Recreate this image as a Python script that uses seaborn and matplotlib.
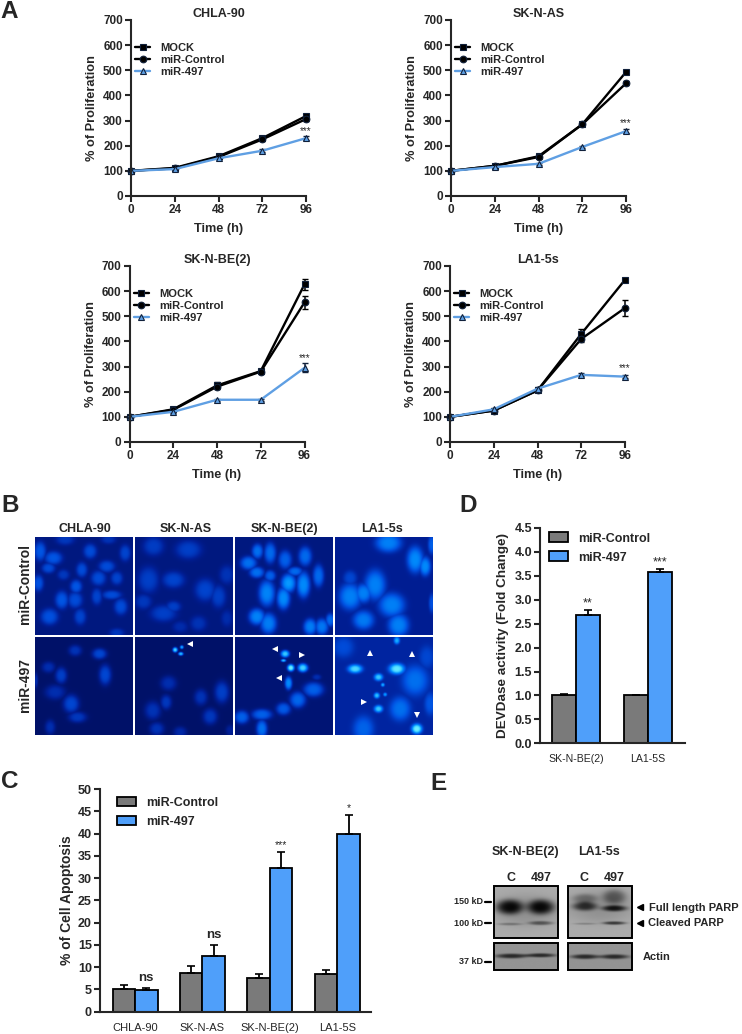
import numpy as np
import pandas as pd
import matplotlib
matplotlib.use("Agg")
import matplotlib.pyplot as plt
from matplotlib.colors import LinearSegmentedColormap
from matplotlib.patches import Rectangle
import seaborn as sns

sns.set_style("ticks")
plt.rcParams["font.family"] = ["Liberation Sans", "DejaVu Sans"]
plt.rcParams["font.weight"] = "bold"
plt.rcParams["axes.labelweight"] = "bold"

W, H = 742, 1034
BLUE = "#4f9ffa"
LINE_BLUE = "#5f9fe3"
GREY = "#7a7a7a"

# proliferation curves
hours = [0, 24, 48, 72, 96]
chla_mock = [100, 112, 158, 230, 318]
chla_ctrl = [100, 110, 155, 225, 306]
chla_497 = [100, 107, 150, 180, 230]
skas_mock = [100, 120, 158, 285, 493]
skas_ctrl = [100, 120, 155, 285, 448]
skas_497 = [100, 115, 128, 195, 258]
skbe_mock = [100, 130, 225, 282, 627]
skbe_ctrl = [100, 128, 220, 280, 555]
skbe_497 = [100, 120, 168, 168, 295]
la_mock = [100, 125, 205, 430, 645]
la_ctrl = [100, 125, 205, 410, 533]
la_497 = [100, 130, 212, 267, 260]

chla_err = [[0, 3, 4, 6, 8], [0, 3, 4, 6, 8], [0, 3, 4, 5, 8]]
skas_err = [[0, 4, 4, 5, 6], [0, 4, 4, 5, 8], [0, 4, 4, 5, 8]]
skbe_err = [[0, 4, 12, 6, 22], [0, 4, 10, 6, 26], [0, 4, 5, 5, 18]]
la_err = [[0, 4, 5, 18, 6], [0, 4, 5, 14, 30], [0, 4, 5, 6, 6]]

# apoptosis bars (panel C)
cells_c = ["CHLA-90", "SK-N-AS", "SK-N-BE(2)", "LA1-5S"]
apop_ctrl = [5.2, 8.8, 7.5, 8.4]
apop_497 = [4.8, 12.6, 32.2, 39.8]
apop_ctrl_err = [0.8, 1.4, 0.9, 1.0]
apop_497_err = [0.5, 2.3, 3.7, 4.4]
apop_marks = ["ns", "ns", "***", "*"]

# DEVDase bars (panel D)
cells_d = ["SK-N-BE(2)", "LA1-5S"]
dev_ctrl = [1.0, 1.0]
dev_497 = [2.69, 3.57]
dev_ctrl_err = [0.02, 0.0]
dev_497_err = [0.09, 0.07]
dev_marks = ["**", "***"]

# nuclei seen in the micrographs: x, y, rx, ry, brightness (3x crop coordinates)
nuclei_r1 = [
    [(120, 185, 16, 26, .42), (160, 205, 24, 18, .42), (145, 235, 18, 14, .38), (190, 255, 16, 14, .3), (115, 280, 14, 22, .4),
     (270, 185, 18, 20, .38), (245, 240, 15, 20, .38), (320, 230, 22, 16, .38), (375, 190, 15, 22, .35), (295, 265, 20, 20, .38),
     (350, 265, 16, 18, .35), (228, 290, 16, 18, .42), (185, 330, 18, 24, .42), (225, 330, 20, 22, .38), (290, 320, 14, 22, .35),
     (335, 315, 26, 12, .38), (362, 350, 18, 22, .38), (240, 380, 16, 22, .35), (148, 380, 24, 22, .4), (195, 150, 25, 15, .3),
     (325, 150, 20, 12, .28), (350, 428, 20, 12, .3)],
    [(460, 170, 28, 25, .32), (565, 180, 35, 25, .33), (445, 270, 28, 35, .33), (520, 270, 30, 22, .35), (615, 300, 28, 30, .35),
     (655, 320, 20, 30, .33), (680, 255, 20, 25, .28), (430, 335, 22, 20, .3), (490, 370, 35, 22, .33), (520, 350, 20, 15, .33),
     (595, 400, 22, 20, .28), (680, 385, 15, 22, .25), (540, 410, 20, 15, .25)],
    [(745, 220, 22, 18, .5), (772, 185, 15, 20, .5), (810, 190, 16, 28, .48), (855, 210, 18, 25, .45), (915, 200, 18, 26, .48),
     (770, 248, 20, 15, .5), (810, 258, 15, 15, .45), (955, 258, 15, 30, .48), (800, 310, 22, 35, .56), (850, 325, 18, 30, .58),
     (865, 280, 20, 25, .62), (910, 285, 18, 35, .58), (885, 245, 20, 12, .48), (770, 380, 22, 22, .56), (805, 400, 22, 28, .54),
     (930, 410, 18, 22, .54), (965, 410, 18, 22, .52), (990, 390, 12, 18, .48)],
    [(1165, 160, 35, 25, .55), (1245, 210, 22, 35, .58), (1275, 230, 15, 25, .58), (1295, 165, 10, 25, .45), (1050, 265, 18, 20, .36),
     (1125, 285, 28, 40, .55), (1050, 320, 30, 35, .55), (1090, 310, 22, 25, .55), (1175, 345, 35, 32, .55), (1090, 390, 28, 25, .53),
     (1195, 405, 28, 30, .55), (1295, 340, 8, 25, .4)],
]
nuclei_r2 = [
    [(225, 480, 18, 15, .28), (298, 490, 20, 15, .36), (145, 530, 18, 15, .26), (183, 555, 16, 22, .33), (315, 553, 17, 28, .36),
     (165, 605, 28, 20, .26), (213, 640, 22, 25, .36), (232, 680, 25, 15, .3), (150, 710, 14, 20, .26), (108, 570, 5, 20, .25)],
    [(525, 478, 7, 7, .75), (545, 470, 5, 5, .65), (542, 490, 7, 5, .7), (505, 578, 22, 20, .26), (602, 620, 18, 22, .28),
     (665, 605, 20, 30, .33), (498, 635, 15, 20, .3), (458, 660, 22, 25, .28), (630, 678, 20, 22, .3), (470, 715, 20, 18, .28),
     (540, 725, 18, 15, .24), (690, 720, 12, 15, .2)],
    [(855, 490, 12, 10, .72), (850, 510, 7, 4, .7), (872, 532, 10, 10, .82), (908, 532, 14, 12, .74), (865, 578, 10, 18, .58),
     (940, 597, 28, 20, .45), (893, 628, 22, 22, .47), (850, 655, 20, 17, .43), (785, 672, 28, 15, .45), (725, 680, 20, 18, .45),
     (785, 715, 15, 25, .5), (950, 560, 12, 8, .26)],
    [(1065, 535, 20, 12, .76), (1190, 535, 22, 15, .8), (1135, 560, 12, 10, .72), (1148, 583, 5, 5, .66), (1130, 615, 8, 8, .7),
     (1135, 655, 12, 10, .72), (1155, 612, 5, 5, .62), (1245, 570, 35, 40, .5), (1200, 655, 28, 32, .5), (1090, 715, 28, 35, .46),
     (1030, 470, 28, 28, .38), (1250, 715, 15, 14, .82), (1190, 450, 8, 10, .66), (1280, 500, 20, 30, .36), (1290, 640, 15, 30, .42)],
]
arrowheads = [(570, 461, "<"), (824, 476, "<"), (905, 495, ">"), (838, 565, "<"),
              (1110, 489, "^"), (1235, 492, "^"), (1092, 635, ">"), (1252, 675, "v")]
panel_bg = [[.13, .13, .13, .18], [.07, .07, .1, .22]]

# western blot bands: x, y, rx, ry, darkness (3x crop coordinates)
parp_bands = [
    (288, 360, 98, 48, .1), (510, 350, 98, 48, .1),
    (240, 350, 40, 22, .55), (332, 350, 40, 22, .55), (465, 348, 36, 13, .42), (465, 325, 36, 14, .2),
    (552, 354, 36, 9, .5), (552, 320, 34, 22, .28), (240, 401, 36, 4, .18), (332, 398, 36, 6, .3),
    (465, 400, 34, 3, .14), (552, 398, 34, 5, .42),
]
actin_bands = [(245, 498, 47, 7, .42), (332, 496, 44, 6, .42), (465, 500, 42, 7, .42), (552, 500, 42, 7, .42)]

fig = plt.figure(figsize=(W / 100, H / 100), dpi=100)
nuc_cmap = LinearSegmentedColormap.from_list(
    "nuclei", ["#000a50", "#00209a", "#0050e0", "#0090ff", "#60e8ff", "#ffffff"])


def px_axes(left, right, top, bottom):
    return fig.add_axes([left / W, 1 - bottom / H, (right - left) / W, (bottom - top) / H])


def blob_shape(xx, yy, bx, by, rx, ry):
    r = ((xx - bx) / rx) ** 2 + ((yy - by) / ry) ** 2
    return np.exp(-r ** 1.6)


def nuclei_image(blobs, x0, x1, y0, y1, base):
    xx, yy = np.meshgrid(np.arange(x0, x1), np.arange(y0, y1))
    img = np.full(xx.shape, float(base))
    for bx, by, rx, ry, level in blobs:
        img = np.maximum(img, base + (level - base) * blob_shape(xx, yy, bx, by, rx * 1.1, ry * 1.1))
    return np.clip(img, 0, 1)


def blot_image(blobs, x0, x1, y0, y1, base):
    xx, yy = np.meshgrid(np.arange(x0, x1), np.arange(y0, y1))
    img = np.full(xx.shape, float(base))
    for bx, by, rx, ry, level in blobs:
        img += level * blob_shape(xx, yy, bx, by, rx, ry)
    return np.clip(img, 0, 1)


def style_axes(ax, size=8.5):
    sns.despine(ax=ax)
    for side in ("left", "bottom"):
        ax.spines[side].set_linewidth(1.5)
    ax.tick_params(width=1.5, length=4.3, labelsize=size, pad=1.5)


def line_panel(left, top, title, mock, ctrl, mir, errs, star_y):
    ax = px_axes(left, left + 175, top, top + 176)
    names = ["MOCK", "miR-Control", "miR-497"]
    df = pd.DataFrame({
        "hour": hours * 3,
        "value": mock + ctrl + mir,
        "group": np.repeat(names, len(hours)),
    })
    colors = {"MOCK": "black", "miR-Control": "black", "miR-497": LINE_BLUE}
    sns.lineplot(data=df, x="hour", y="value", hue="group", style="group", ax=ax,
                 palette=colors, dashes=False, errorbar=None, linewidth=1.7,
                 markers={"MOCK": "s", "miR-Control": "o", "miR-497": "^"},
                 markersize=4.8, markeredgecolor="#10203a", markeredgewidth=0.8, clip_on=False)
    for vals, err, name in zip((mock, ctrl, mir), errs, names):
        ax.errorbar(hours, vals, yerr=err, fmt="none", ecolor="#10203a" if name == "miR-497" else "black",
                    elinewidth=1.1, capsize=2, capthick=1, clip_on=False, zorder=1.5)
    ax.set_xlim(0, 96)
    ax.set_ylim(0, 700)
    ax.set_xticks(hours)
    ax.set_yticks(range(0, 701, 100))
    ax.set_xlabel("Time (h)", fontsize=9.2, labelpad=5)
    ax.set_ylabel("% of Proliferation", fontsize=9.2, labelpad=3.5)
    style_axes(ax)
    ax.text(48, 724, title, ha="center", va="center", fontsize=9)
    ax.text(96, star_y, "***", ha="center", va="center", fontsize=7, fontweight="normal")
    ax.legend(loc="upper left", bbox_to_anchor=(-0.02, 0.915), frameon=False, title=None,
              fontsize=8, handlelength=1.35, handletextpad=0.9, labelspacing=0.17, borderaxespad=0.3)
    return ax


def bar_panel(left, right, top, bottom, cats, ctrl, mir, ctrl_err, mir_err, marks, ymax, step, xlim,
              ylabel, tick_fmt, mark_offset, fontsize, star_size, x_size, legend_xy, label_pad):
    ax = px_axes(left, right, top, bottom)
    df = pd.DataFrame({
        "cell": cats * 2,
        "value": ctrl + mir,
        "group": np.repeat(["miR-Control", "miR-497"], len(cats)),
    })
    sns.barplot(data=df, x="cell", y="value", hue="group", ax=ax, errorbar=None, width=0.667, gap=0,
                palette={"miR-Control": GREY, "miR-497": BLUE}, saturation=1,
                edgecolor="black", linewidth=1.3)
    for cont, vals, err in zip(ax.containers, (ctrl, mir), (ctrl_err, mir_err)):
        xs = [p.get_x() + p.get_width() / 2 for p in cont.patches]
        ax.errorbar(xs, vals, yerr=[np.zeros(len(err)), err], fmt="none", ecolor="black",
                    elinewidth=1.3, capsize=3, capthick=1.2)
    xs = [p.get_x() + p.get_width() / 2 for p in ax.containers[1].patches]
    for x, v, e, m in zip(xs, mir, mir_err, marks):
        is_star = "*" in m
        ax.text(x, v + e + mark_offset * (0.35 if is_star else 1), m, ha="center", va="bottom",
                fontsize=star_size if is_star else 9.5, fontweight="normal" if is_star else "bold")
    ax.set_xlim(*xlim)
    ax.set_ylim(0, ymax)
    ax.set_yticks(np.arange(0, ymax + step / 2, step))
    ax.set_yticklabels([tick_fmt.format(v) for v in np.arange(0, ymax + step / 2, step)])
    ax.set_xlabel("")
    ax.set_ylabel(ylabel, fontsize=fontsize, labelpad=label_pad)
    style_axes(ax, size=9)
    ax.tick_params(axis="x", length=0, labelsize=x_size, pad=8)
    for lab in ax.get_xticklabels():
        lab.set_fontweight("normal")
    ax.legend(loc="upper left", bbox_to_anchor=legend_xy, frameon=False, title=None, fontsize=9,
              handlelength=1.5, handleheight=0.8, handletextpad=0.8, labelspacing=0.55, borderaxespad=0.2)
    return ax


line_panel(131, 20, "CHLA-90", chla_mock, chla_ctrl, chla_497, chla_err, 260)
line_panel(451, 20, "SK-N-AS", skas_mock, skas_ctrl, skas_497, skas_err, 290)
line_panel(129.5, 266, "SK-N-BE(2)", skbe_mock, skbe_ctrl, skbe_497, skbe_err, 335)
line_panel(450, 266, "LA1-5s", la_mock, la_ctrl, la_497, la_err, 295)

bar_panel(100, 371, 789, 1011.7, cells_c, apop_ctrl, apop_497, apop_ctrl_err, apop_497_err, apop_marks,
          50, 5, (-0.52, 3.5), "% of Cell Apoptosis", "{:.0f}", 1.0, 10, 7.5, 8, (0.035, 1.0), 3)
bar_panel(540, 685, 528, 743.3, cells_d, dev_ctrl, dev_497, dev_ctrl_err, dev_497_err, dev_marks,
          4.5, 0.5, (-0.5, 1.51), "DEVDase activity (Fold Change)", "{:.1f}", 0.03, 9.7, 9, 7.6, (0.01, 1.014), 4)

# overlay in figure pixels for the micrographs, blots and loose labels
ov = fig.add_axes([0, 0, 1, 1], zorder=5)
ov.set_xlim(0, W)
ov.set_ylim(H, 0)
ov.axis("off")
ov.patch.set_alpha(0)

col_edges = [(105, 399), (405, 699), (705, 999), (1005, 1299)]
row_edges = [(143, 435), (440, 734)]
for r, (rows, nuclei) in enumerate(zip(row_edges, (nuclei_r1, nuclei_r2))):
    for c, cols in enumerate(col_edges):
        img = nuclei_image(nuclei[c], cols[0], cols[1], rows[0], rows[1], panel_bg[r][c])
        ov.imshow(img, cmap=nuc_cmap, vmin=0, vmax=1, aspect="auto", interpolation="bilinear",
                  extent=(cols[0] / 3, cols[1] / 3, 490 + rows[1] / 3, 490 + rows[0] / 3))
for ax_x, ax_y, mk in arrowheads:
    ov.plot(ax_x / 3, 490 + ax_y / 3, marker=mk, color="white", markersize=5, markeredgewidth=0, ls="none")

blot_boxes = [(193, 384, 288, 443, parp_bands, 0.33), (415, 605, 288, 443, parp_bands, 0.33),
              (193, 384, 460, 540, actin_bands, 0.42), (415, 605, 460, 540, actin_bands, 0.42)]
for x0, x1, y0, y1, bands, base in blot_boxes:
    img = blot_image(bands, x0, x1, y0, y1, base)
    ov.imshow(1 - img, cmap="gray", vmin=0, vmax=1, aspect="auto", interpolation="bilinear",
              extent=(430 + x0 / 3, 430 + x1 / 3, 790 + y1 / 3, 790 + y0 / 3))
    ov.add_patch(Rectangle((430 + x0 / 3, 790 + y0 / 3), (x1 - x0) / 3, (y1 - y0) / 3, fill=False,
                           ec="black", lw=1.4))
for size_y, size_lab, size_x in [(902, "150 kD", 483), (923, "100 kD", 483), (962, "37 kD", 483)]:
    ov.text(size_x, size_y, size_lab, ha="right", va="center", fontsize=6.5)
    ov.plot([485, 491], [size_y, size_y], color="black", lw=1.6)
for arrow_x, arrow_y in [(640, 907), (640, 923)]:
    ov.plot(arrow_x, arrow_y, marker="<", color="black", markersize=4.5, ls="none")

ov.set_xlim(0, W)
ov.set_ylim(H, 0)

labels = [
    (0, 11, "A", 17.5, "left"), (1, 505, "B", 17.5, "left"), (1, 782, "C", 17.5, "left"),
    (459, 505, "D", 17.5, "left"), (430, 783, "E", 17.5, "left"),
    (85, 529, "CHLA-90", 9, "center"), (186, 529, "SK-N-AS", 9, "center"),
    (284, 529, "SK-N-BE(2)", 9, "center"), (382, 529, "LA1-5s", 9, "center"),
    (525, 852, "SK-N-BE(2)", 9, "center"), (599, 852, "LA1-5s", 9, "center"),
    (511, 878, "C", 9, "center"), (541, 878, "497", 9, "center"),
    (584, 878, "C", 9, "center"), (614, 878, "497", 9, "center"),
    (649, 908, "Full length PARP", 8, "left"), (648, 923, "Cleaved PARP", 8, "left"),
    (643, 957, "Actin", 8, "left"),
]
for x, y, txt, size, ha in labels:
    ov.text(x, y, txt, ha=ha, va="center", fontsize=size)
ov.text(25, 584, "miR-Control", rotation=90, ha="center", va="center", fontsize=10)
ov.text(25, 685, "miR-497", rotation=90, ha="center", va="center", fontsize=10)

fig.savefig("out.png", dpi=100, facecolor="white")
